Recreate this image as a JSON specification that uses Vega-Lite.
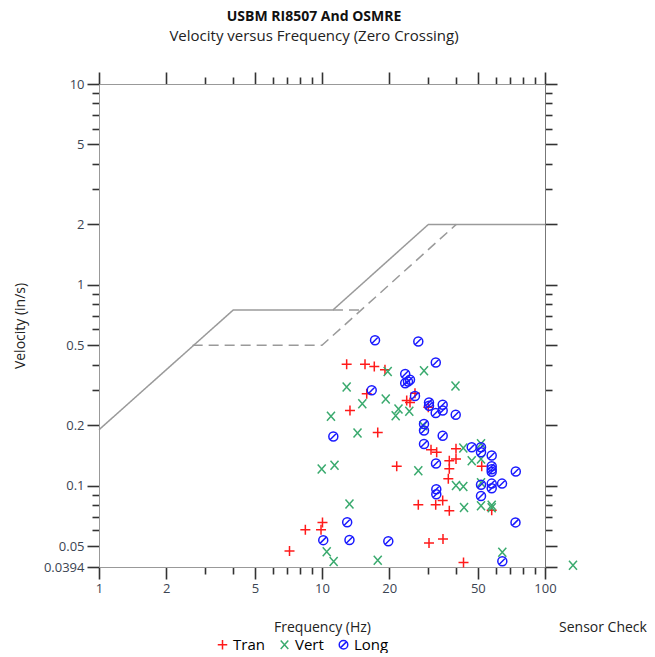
{
  "$schema": "https://vega.github.io/schema/vega-lite/v6.json",
  "width": 446,
  "height": 483,
  "padding": {"left": 13, "top": 10, "right": 0, "bottom": 0},
  "background": "white",
  "config": {
    "view": {"stroke": null},
    "font": "Open Sans",
    "axis": {"grid": false, "labelFlush": false, "labelOverlap": false}
  },
  "title": {
    "text": "USBM RI8507 And OSMRE",
    "subtitle": "Velocity versus Frequency (Zero Crossing)",
    "anchor": "middle",
    "frame": "group",
    "dx": -8,
    "font": "Open Sans",
    "fontSize": 14,
    "fontWeight": "bold",
    "color": "#111111",
    "subtitleFont": "Open Sans",
    "subtitleFontSize": 15,
    "subtitleColor": "#222222",
    "subtitlePadding": 5,
    "offset": 27
  },
  "datasets": {
    "curves": [
      {"curve": "USBM RI8507", "freq": 1, "vel": 0.19},
      {"curve": "USBM RI8507", "freq": 4, "vel": 0.75},
      {"curve": "USBM RI8507", "freq": 11.2, "vel": 0.75},
      {"curve": "USBM RI8507", "freq": 30, "vel": 2},
      {"curve": "USBM RI8507", "freq": 100, "vel": 2},
      {"curve": "OSMRE", "freq": 2.63, "vel": 0.5},
      {"curve": "OSMRE", "freq": 10, "vel": 0.5},
      {"curve": "OSMRE", "freq": 40, "vel": 2},
      {"curve": "OSMRE 0.75", "freq": 11.2, "vel": 0.75},
      {"curve": "OSMRE 0.75", "freq": 15, "vel": 0.75}
    ],
    "points": [
      {"series": "Tran", "freq": 12.9, "vel": 0.403},
      {"series": "Tran", "freq": 15.59, "vel": 0.403},
      {"series": "Tran", "freq": 17.16, "vel": 0.392},
      {"series": "Tran", "freq": 19.16, "vel": 0.378},
      {"series": "Tran", "freq": 15.87, "vel": 0.287},
      {"series": "Tran", "freq": 13.35, "vel": 0.237},
      {"series": "Tran", "freq": 17.78, "vel": 0.184},
      {"series": "Tran", "freq": 26.12, "vel": 0.289},
      {"series": "Tran", "freq": 23.98, "vel": 0.266},
      {"series": "Tran", "freq": 24.81, "vel": 0.26},
      {"series": "Tran", "freq": 29.97, "vel": 0.246},
      {"series": "Tran", "freq": 30.82, "vel": 0.151},
      {"series": "Tran", "freq": 32.68, "vel": 0.147},
      {"series": "Tran", "freq": 39.89, "vel": 0.153},
      {"series": "Tran", "freq": 39.89, "vel": 0.136},
      {"series": "Tran", "freq": 37.23, "vel": 0.133},
      {"series": "Tran", "freq": 52.02, "vel": 0.125},
      {"series": "Tran", "freq": 21.63, "vel": 0.125},
      {"series": "Tran", "freq": 37.23, "vel": 0.1215},
      {"series": "Tran", "freq": 36.85, "vel": 0.1083},
      {"series": "Tran", "freq": 27.03, "vel": 0.0804},
      {"series": "Tran", "freq": 32.35, "vel": 0.0804},
      {"series": "Tran", "freq": 34.77, "vel": 0.0844},
      {"series": "Tran", "freq": 37.23, "vel": 0.0751},
      {"series": "Tran", "freq": 57.68, "vel": 0.0755},
      {"series": "Tran", "freq": 30.19, "vel": 0.0519},
      {"series": "Tran", "freq": 34.88, "vel": 0.0543},
      {"series": "Tran", "freq": 43.11, "vel": 0.0415},
      {"series": "Tran", "freq": 10.05, "vel": 0.0657},
      {"series": "Tran", "freq": 8.42, "vel": 0.0604},
      {"series": "Tran", "freq": 9.9, "vel": 0.0604},
      {"series": "Tran", "freq": 7.15, "vel": 0.0473},
      {"series": "Vert", "freq": 19.71, "vel": 0.37},
      {"series": "Vert", "freq": 12.9, "vel": 0.31},
      {"series": "Vert", "freq": 19.31, "vel": 0.27},
      {"series": "Vert", "freq": 15.16, "vel": 0.256},
      {"series": "Vert", "freq": 10.97, "vel": 0.222},
      {"series": "Vert", "freq": 14.43, "vel": 0.183},
      {"series": "Vert", "freq": 28.67, "vel": 0.374},
      {"series": "Vert", "freq": 39.68, "vel": 0.314},
      {"series": "Vert", "freq": 22.03, "vel": 0.241},
      {"series": "Vert", "freq": 21.4, "vel": 0.223},
      {"series": "Vert", "freq": 24.63, "vel": 0.235},
      {"series": "Vert", "freq": 28.47, "vel": 0.199},
      {"series": "Vert", "freq": 43.02, "vel": 0.154},
      {"series": "Vert", "freq": 51.65, "vel": 0.162},
      {"series": "Vert", "freq": 46.93, "vel": 0.133},
      {"series": "Vert", "freq": 51.65, "vel": 0.136},
      {"series": "Vert", "freq": 27.03, "vel": 0.1188},
      {"series": "Vert", "freq": 39.89, "vel": 0.1003},
      {"series": "Vert", "freq": 43.02, "vel": 0.0992},
      {"series": "Vert", "freq": 43.34, "vel": 0.078},
      {"series": "Vert", "freq": 51.65, "vel": 0.0795},
      {"series": "Vert", "freq": 57.68, "vel": 0.08},
      {"series": "Vert", "freq": 57.68, "vel": 0.0777},
      {"series": "Vert", "freq": 64.35, "vel": 0.0467},
      {"series": "Vert", "freq": 9.97, "vel": 0.1213},
      {"series": "Vert", "freq": 11.38, "vel": 0.1265},
      {"series": "Vert", "freq": 13.28, "vel": 0.0812},
      {"series": "Vert", "freq": 10.5, "vel": 0.0469},
      {"series": "Vert", "freq": 11.28, "vel": 0.042},
      {"series": "Vert", "freq": 17.78, "vel": 0.0426},
      {"series": "Vert", "freq": 51.65, "vel": 0.1035},
      {"series": "Vert", "freq": 133.5, "vel": 0.0402, "note": "Sensor Check"},
      {"series": "Long", "freq": 17.29, "vel": 0.53},
      {"series": "Long", "freq": 27.03, "vel": 0.522},
      {"series": "Long", "freq": 32.38, "vel": 0.411},
      {"series": "Long", "freq": 23.61, "vel": 0.36},
      {"series": "Long", "freq": 24.81, "vel": 0.337},
      {"series": "Long", "freq": 24.3, "vel": 0.33},
      {"series": "Long", "freq": 23.61, "vel": 0.324},
      {"series": "Long", "freq": 16.71, "vel": 0.299},
      {"series": "Long", "freq": 26.12, "vel": 0.28},
      {"series": "Long", "freq": 30.19, "vel": 0.26},
      {"series": "Long", "freq": 30.19, "vel": 0.25},
      {"series": "Long", "freq": 34.77, "vel": 0.253},
      {"series": "Long", "freq": 34.77, "vel": 0.237},
      {"series": "Long", "freq": 32.35, "vel": 0.23},
      {"series": "Long", "freq": 39.78, "vel": 0.2255},
      {"series": "Long", "freq": 28.67, "vel": 0.203},
      {"series": "Long", "freq": 28.67, "vel": 0.1884},
      {"series": "Long", "freq": 11.24, "vel": 0.176},
      {"series": "Long", "freq": 34.77, "vel": 0.1773},
      {"series": "Long", "freq": 28.67, "vel": 0.1614},
      {"series": "Long", "freq": 46.93, "vel": 0.1554},
      {"series": "Long", "freq": 51.65, "vel": 0.1554},
      {"series": "Long", "freq": 51.65, "vel": 0.1468},
      {"series": "Long", "freq": 57.68, "vel": 0.1413},
      {"series": "Long", "freq": 32.45, "vel": 0.1291},
      {"series": "Long", "freq": 57.68, "vel": 0.125},
      {"series": "Long", "freq": 57.68, "vel": 0.1208},
      {"series": "Long", "freq": 57.68, "vel": 0.1174},
      {"series": "Long", "freq": 73.97, "vel": 0.1178},
      {"series": "Long", "freq": 51.65, "vel": 0.1012},
      {"series": "Long", "freq": 57.68, "vel": 0.1025},
      {"series": "Long", "freq": 57.68, "vel": 0.0972},
      {"series": "Long", "freq": 64.16, "vel": 0.1025},
      {"series": "Long", "freq": 32.55, "vel": 0.0961},
      {"series": "Long", "freq": 32.55, "vel": 0.0907},
      {"series": "Long", "freq": 51.65, "vel": 0.0889},
      {"series": "Long", "freq": 73.74, "vel": 0.0657},
      {"series": "Long", "freq": 64.35, "vel": 0.0421},
      {"series": "Long", "freq": 12.97, "vel": 0.0658},
      {"series": "Long", "freq": 10.13, "vel": 0.0536},
      {"series": "Long", "freq": 13.28, "vel": 0.0537},
      {"series": "Long", "freq": 19.83, "vel": 0.0529}
    ]
  },
  "layer": [
    {
      "data": {"name": "curves"},
      "mark": {"type": "line", "color": "#9a9a9a", "strokeWidth": 1.5},
      "encoding": {
        "x": {
          "field": "freq", "type": "quantitative",
          "scale": {"type": "log", "domain": [1, 100], "nice": false},
          "axis": {
            "orient": "bottom",
            "values": [1, 2, 3, 4, 5, 6, 7, 8, 9, 10, 20, 30, 40, 50, 60, 70, 80, 90, 100],
            "format": "~g",
            "labelExpr": "indexof([1, 2, 5, 10, 20, 50, 100], datum.value) >= 0 ? datum.label : ''",
            "tickSize": {"condition": {"test": "indexof([1, 2, 5, 10, 20, 50, 100], datum.value) >= 0", "value": 12}, "value": 7},
            "tickColor": "#333333", "tickWidth": 1.6,
            "domainColor": "#999999",
            "labelColor": "#3b4452", "labelFontSize": 13, "labelPadding": 3,
            "title": "Frequency (Hz)", "titleFontSize": 14, "titleFontWeight": "normal",
            "titleColor": "#222222", "titlePadding": 25
          }
        },
        "y": {
          "field": "vel", "type": "quantitative",
          "scale": {"type": "log", "domain": [0.0394, 10], "nice": false},
          "axis": {
            "orient": "left",
            "values": [0.0394, 0.05, 0.06, 0.07, 0.08, 0.09, 0.1, 0.2, 0.3, 0.4, 0.5, 0.6, 0.7, 0.8, 0.9, 1, 2, 3, 4, 5, 6, 7, 8, 9, 10],
            "format": "~g",
            "labelExpr": "indexof([0.0394, 0.05, 0.1, 0.2, 0.5, 1, 2, 5, 10], datum.value) >= 0 ? datum.label : ''",
            "tickSize": {"condition": {"test": "indexof([0.0394, 0.05, 0.1, 0.2, 0.5, 1, 2, 5, 10], datum.value) >= 0", "value": 12}, "value": 7},
            "tickColor": "#333333", "tickWidth": 1.6,
            "domainColor": "#999999",
            "labelColor": "#3b4452", "labelFontSize": 13, "labelPadding": 3,
            "title": "Velocity (in/s)", "titleFontSize": 14, "titleFontWeight": "normal",
            "titleColor": "#222222", "titlePadding": 16
          }
        },
        "strokeDash": {
          "field": "curve", "type": "nominal",
          "scale": {"domain": ["USBM RI8507", "OSMRE", "OSMRE 0.75"], "range": [[1, 0], [10, 6], [10, 6]]},
          "legend": null
        }
      }
    },
    {
      "data": {"name": "points"},
      "mark": {"type": "point", "filled": false, "strokeWidth": 1.5, "size": 100, "opacity": 1},
      "encoding": {
        "x": {
          "field": "freq", "type": "quantitative",
          "scale": {"type": "log", "domain": [1, 100], "nice": false},
          "axis": {
            "orient": "top",
            "values": [1, 2, 3, 4, 5, 6, 7, 8, 9, 10, 20, 30, 40, 50, 60, 70, 80, 90, 100],
            "labels": false,
            "tickSize": {"condition": {"test": "indexof([1, 2, 5, 10, 20, 50, 100], datum.value) >= 0", "value": 12}, "value": 7},
            "tickColor": "#333333", "tickWidth": 1.6,
            "domainColor": "#999999",
            "title": null
          }
        },
        "y": {
          "field": "vel", "type": "quantitative",
          "scale": {"type": "log", "domain": [0.0394, 10], "nice": false},
          "axis": {
            "orient": "right",
            "values": [0.0394, 0.05, 0.06, 0.07, 0.08, 0.09, 0.1, 0.2, 0.3, 0.4, 0.5, 0.6, 0.7, 0.8, 0.9, 1, 2, 3, 4, 5, 6, 7, 8, 9, 10],
            "labels": false,
            "tickSize": {"condition": {"test": "indexof([0.0394, 0.05, 0.1, 0.2, 0.5, 1, 2, 5, 10], datum.value) >= 0", "value": 12}, "value": 7},
            "tickColor": "#333333", "tickWidth": 1.6,
            "domainColor": "#777777",
            "title": null
          }
        },
        "color": {
          "field": "series", "type": "nominal",
          "scale": {"domain": ["Tran", "Vert", "Long"], "range": ["#ff1a1a", "#3aaa6e", "#1a1aff"]},
          "legend": {
            "orient": "none", "legendX": 116, "legendY": 553,
            "direction": "horizontal", "title": null,
            "labelFont": "Open Sans", "labelFontSize": 15, "labelOffset": 3,
            "symbolSize": 90, "symbolStrokeWidth": 1.5, "columnPadding": 12,
            "encode": {"labels": {"update": {"fill": {"signal": "datum.value === 'Tran' ? '#ff1a1a' : datum.value === 'Vert' ? '#3aaa6e' : '#1a1aff'"}}}}
          }
        },
        "shape": {
          "field": "series", "type": "nominal",
          "scale": {
            "domain": ["Tran", "Vert", "Long"],
            "range": [
              "M-1,0L1,0M0,-1L0,1",
              "M-0.8,-0.9L0.8,0.9M-0.8,0.9L0.8,-0.9",
              "M0.9,0A0.9,0.9 0 1,1 -0.9,0A0.9,0.9 0 1,1 0.9,0ZM-0.6,0.6L0.6,-0.6"
            ]
          }
        }
      }
    },
    {
      "data": {"name": "points"},
      "transform": [{"filter": "datum.note"}],
      "mark": {"type": "text", "dx": 30, "dy": 63, "fontSize": 14, "font": "Open Sans", "color": "#222222", "align": "center", "baseline": "middle"},
      "encoding": {
        "x": {"field": "freq", "type": "quantitative", "scale": {"type": "log", "domain": [1, 100], "nice": false}, "axis": null},
        "y": {"field": "vel", "type": "quantitative", "scale": {"type": "log", "domain": [0.0394, 10], "nice": false}, "axis": null},
        "text": {"field": "note"}
      }
    }
  ],
  "resolve": {"axis": {"x": "independent", "y": "independent"}}
}
